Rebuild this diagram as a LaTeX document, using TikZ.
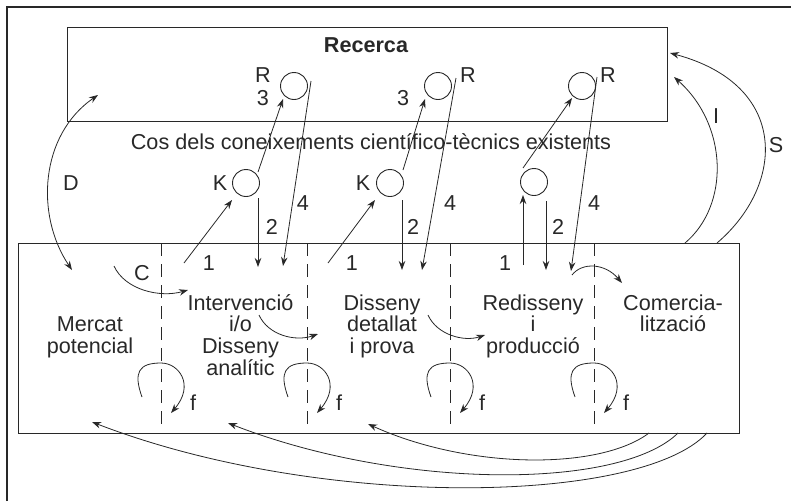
\documentclass[tikz,border=0pt]{standalone}
\usepackage{fontspec}
\setmainfont{Liberation Sans}
\usetikzlibrary{arrows.meta,calc}
\definecolor{ink}{RGB}{40,40,40}
\begin{document}
\begin{tikzpicture}[x=1pt,y=-1pt,
  every node/.style={text=ink,font=\fontsize{21.6}{21.7}\selectfont},
  frame/.style={draw=ink,line width=1.2pt},
  conn/.style={draw=ink,line width=0.8pt},
  arr/.style={conn,-{Stealth[length=9pt,width=6.5pt]}},
  darr/.style={conn,{Stealth[length=9pt,width=6.5pt]}-{Stealth[length=9pt,width=6.5pt]}},
  ring/.style={circle,draw=ink,line width=0.9pt,minimum size=27pt,inner sep=0pt},
  divider/.style={draw=ink,line width=0.9pt,dash pattern=on 13pt off 8pt},
  lbl/.style={inner sep=0pt},
  stage/.style={align=center,inner sep=0pt,anchor=base}]
\useasboundingbox (0,0) rectangle (791,501);

% outer frame (top and left edges)
\draw[frame] (7,501) -- (7,7) -- (791,7);

% research box and the lower process box
\node[frame,minimum width=600pt,minimum height=94pt,anchor=north west,inner sep=0pt] (research) at (67,27) {};
\node[font=\fontsize{21.6}{21.7}\selectfont\bfseries,lbl] (rtitle) at (366,45) {Recerca};
\node[lbl] (body) at (371,142) {Cos dels coneixements científico-tècnics existents};
\node[frame,minimum width=721pt,minimum height=190pt,anchor=north west,inner sep=0pt] (process) at (18,243) {};

% stage dividers
\foreach \x/\n in {161/1,307/2,450/3,594/4}{
  \coordinate (dt\n) at (\x,243);
  \coordinate (db\n) at (\x,424);
  \draw[divider] (dt\n) -- (db\n);
}

% stages (placed by the baseline of the last line)
\node[stage] (mercat) at (90,353.4) {Mercat\\potencial};
\node[stage] (interv) at (240.5,375.1) {Intervenció\\i/o\\Disseny\\analític};
\node[stage] (detall) at (382,353.4) {Disseny\\detallat\\i prova};
\node[stage] (redis) at (533,353.4) {Redisseny\\i\\producció};
\node[stage] (comerc) at (673,331.7) {Comercia-\\lització};

% research and knowledge circles
\node[ring] (r1) at (294,86) {};
\node[ring] (r2) at (438,86) {};
\node[ring] (r3) at (582,86) {};
\node[ring] (k1) at (246,183) {};
\node[ring] (k2) at (390,183) {};
\node[ring] (k3) at (534,182) {};

\node[lbl] (rl1) at (263,75) {R};
\node[lbl] (tl1) at (263,98) {3};
\node[lbl] (tl2) at (403,98) {3};
\node[lbl] (rl2) at (468,75) {R};
\node[lbl] (rl3) at (608,75) {R};
\node[lbl] (kl1) at (220,183) {K};
\node[lbl] (kl2) at (363,183) {K};

% path ends inside the process box
\coordinate (s1a) at (184,263);
\coordinate (s1b) at (328,263);
\coordinate (s1c) at (523,265);
\coordinate (e2a) at (258,267);
\coordinate (e2b) at (402,270);
\coordinate (e2c) at (546,270);
\coordinate (e4a) at (283,266);
\coordinate (e4b) at (422,270);
\coordinate (e4c) at (571,271);

% 1: process -> knowledge
\draw[arr] (s1a) -- ($(k1)+(-14,17)$);
\draw[arr] (s1b) -- ($(k2)+(-15,17)$);
\draw[arr] (s1c) -- ($(k3)+(-11,13)$);
\node[lbl] (n1a) at (209,263) {1};
\node[lbl] (n1b) at (352,263) {1};
\node[lbl] (n1c) at (505,263) {1};

% 2: knowledge -> process
\draw[arr] ($(k1)+(12,15)$) -- (e2a);
\draw[arr] ($(k2)+(12,17)$) -- (e2b);
\draw[arr] ($(k3)+(12,19)$) -- (e2c);
\node[lbl] (n2a) at (272,227) {2};
\node[lbl] (n2b) at (413,227) {2};
\node[lbl] (n2c) at (558,227) {2};

% 3: knowledge -> research
\draw[arr] ($(k1)+(12,-11)$) -- ($(r1)+(-11,13)$);
\draw[arr] ($(k2)+(13,-13)$) -- ($(r2)+(-13,13)$);
\draw[arr] ($(k3)+(-11,-14)$) -- ($(r3)+(-10,12)$);

% 4: research -> process
\draw[arr] ($(r1)+(17,-5)$) -- (e4a);
\draw[arr] ($(r2)+(18,-8)$) -- (e4b);
\draw[arr] ($(r3)+(15,-9)$) -- (e4c);
\node[lbl] (n4a) at (303,203) {4};
\node[lbl] (n4b) at (450,203) {4};
\node[lbl] (n4c) at (594,203) {4};

% D: market <-> research
\coordinate (dtop) at (98,95);
\coordinate (dbot) at (72,270);
\draw[darr] (dtop) .. controls (40,135) and (35,215) .. (dbot);
\node[lbl] (dl) at (71,183) {D};

% C: market -> first stage
\coordinate (cs) at (114,266);
\coordinate (ce) at (188,290);
\draw[arr] (cs) .. controls (125,290) and (160,298) .. (ce);
\node[lbl] (cl) at (142,273) {C};

% stage to stage
\coordinate (ta) at (259,315);
\coordinate (tb) at (428,315);
\coordinate (tc) at (572,275);
\draw[arr] (ta) .. controls (268,335) and (295,342) .. (318,334);
\draw[arr] (tb) .. controls (437,335) and (464,342) .. (485,335);
\draw[arr] (tc) .. controls (582,262) and (605,263) .. (622,283);

% f: feedback loops across each divider
\foreach \x/\n in {161/1,307/2,450/3,594/4}{
  \draw[arr] (\x-19,397) .. controls (\x-28,372) and (\x-22,363) .. (\x,363)
    .. controls (\x+18,363) and (\x+34,385) .. (\x+10,413);
  \node[lbl] (fl\n) at (\x+32,403) {f};
}

% I and S: process -> research
\coordinate (is) at (685,243);
\coordinate (ie) at (674,77);
\coordinate (ss) at (717,243);
\coordinate (se) at (670,53);
\draw[arr] (is) .. controls (730,205) and (728,125) .. (ie);
\draw[arr] (ss) .. controls (785,185) and (790,85) .. (se);
\node[lbl] (il) at (716,116) {I};
\node[lbl] (sl) at (776,145) {S};

% returns from commercialisation back to earlier stages
\coordinate (ba) at (649,433);
\coordinate (bb) at (678,433);
\coordinate (bc) at (707,433);
\draw[arr] (ba) .. controls (600,470) and (470,470) .. (368,424);
\draw[arr] (bb) .. controls (620,490) and (400,490) .. (228,423);
\draw[arr] (bc) .. controls (640,505) and (320,510) .. (92,422);
\end{tikzpicture}
\end{document}
